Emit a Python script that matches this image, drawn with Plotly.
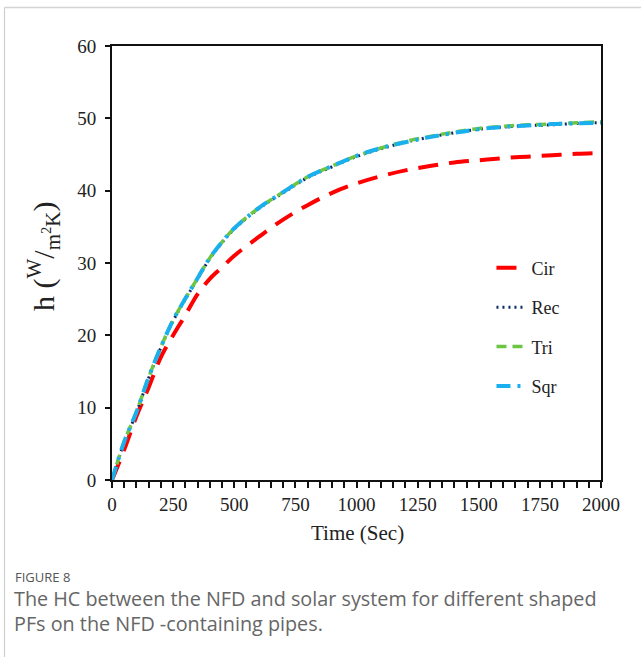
import plotly.graph_objects as go

time = [0, 50, 100, 150, 200, 250, 300, 350, 400, 450, 500, 600, 700, 800, 900,
        1000, 1100, 1200, 1300, 1400, 1500, 1600, 1700, 1800, 1900, 2000]
cir = [0, 4.2, 8.8, 12.8, 17.0, 20.0, 22.8, 25.7, 27.8, 29.4, 31.0, 33.6, 36.0, 38.0, 39.7,
       41.0, 42.0, 42.8, 43.4, 43.9, 44.2, 44.5, 44.7, 44.9, 45.1, 45.2]
rec = [0, 5.2, 9.3, 14.1, 18.3, 22.0, 25.0, 27.8, 30.6, 32.8, 34.7, 37.5, 39.7, 41.8, 43.3,
       44.7, 45.8, 46.7, 47.4, 48.0, 48.5, 48.8, 49.0, 49.1, 49.3, 49.4]
tri = [0, 5.3, 9.4, 14.2, 18.4, 22.1, 25.1, 27.9, 30.7, 32.9, 34.8, 37.6, 39.8, 41.9, 43.4,
       44.8, 45.9, 46.8, 47.5, 48.1, 48.6, 48.9, 49.1, 49.2, 49.4, 49.5]
sqr = [0, 5.3, 9.4, 14.2, 18.4, 22.1, 25.1, 27.9, 30.7, 32.9, 34.8, 37.6, 39.8, 41.9, 43.4,
       44.8, 45.9, 46.7, 47.4, 48.0, 48.5, 48.8, 49.0, 49.2, 49.3, 49.4]

series_names = ["Cir", "Rec", "Tri", "Sqr"]
series_vals = [cir, rec, tri, sqr]
styles = [
    dict(color="#ff0000", width=4, dash="20px,11px"),
    dict(color="#0a2a66", width=3, dash="2px,4px"),
    dict(color="#6cc644", width=3.5, dash="10px,6px"),
    dict(color="#1ab0ee", width=4, dash="14px,7px,3px,7px"),
]

fig = go.Figure()
for i, (n, v, s) in enumerate(zip(series_names, series_vals, styles)):
    fig.add_trace(go.Scatter(x=time, y=v, mode="lines", name=n, line=dict(shape="spline", **s),
                             legendgroup=n))

serif = "Liberation Serif"
fig.update_layout(
    width=641, height=657,
    margin=dict(l=112, r=40, t=46, b=177),
    paper_bgcolor="white", plot_bgcolor="white",
    font=dict(family=serif, size=19, color="#222"),
    showlegend=True,
    legend=dict(x=0.776, y=0.531, xanchor="left", yanchor="top", bgcolor="rgba(0,0,0,0)",
                font=dict(family=serif, size=18, color="#222"), tracegroupgap=13,
                itemwidth=30),
    xaxis=dict(range=[0, 2000], dtick=250, tick0=0, showgrid=False, zeroline=False,
               showline=True, linecolor="#111", linewidth=2, mirror=True,
               ticks="outside", ticklen=6, tickwidth=1.5, tickcolor="#111",
               minor=dict(dtick=50, ticks="outside", ticklen=6, tickwidth=1.5, tickcolor="#111"),
               tickfont=dict(family=serif, size=19, color="#222")),
    yaxis=dict(range=[0, 60], dtick=10, showgrid=False, zeroline=False,
               showline=True, linecolor="#111", linewidth=2, mirror=True,
               ticks="outside", ticklen=5, tickwidth=1.5, tickcolor="#111",
               ticklabelstandoff=5,
               tickfont=dict(family=serif, size=19, color="#222")),
)

W, H = 489.0, 434.0
def px(x): return (x - 112) / W
def py(y): return (480 - y) / H

fig.add_annotation(text="Time (Sec)", x=px(357), y=py(533), xref="paper", yref="paper",
                   showarrow=False, font=dict(family=serif, size=21, color="#222"),
                   xanchor="center", yanchor="middle")
fig.add_annotation(text="h (<sup>W</sup>/<sub>m<sup>2</sup>K</sub>)", x=px(43), y=py(256),
                   xref="paper", yref="paper", textangle=-90, showarrow=False,
                   font=dict(family=serif, size=30, color="#222"),
                   xanchor="center", yanchor="middle")

sans = "Open Sans"
fig.add_annotation(text="FIGURE 8", x=px(13), y=py(577), xref="paper", yref="paper",
                   showarrow=False, xanchor="left", yanchor="middle",
                   font=dict(family=sans, size=13, color="#555"))
fig.add_annotation(text="The HC between the NFD and solar system for different shaped",
                   x=px(12), y=py(598), xref="paper", yref="paper",
                   showarrow=False, xanchor="left", yanchor="middle",
                   font=dict(family=sans, size=19.8, color="#666"))
fig.add_annotation(text="PFs on the NFD -containing pipes.",
                   x=px(12), y=py(623), xref="paper", yref="paper",
                   showarrow=False, xanchor="left", yanchor="middle",
                   font=dict(family=sans, size=19.8, color="#666"))

# card border
fig.add_shape(type="line", xref="paper", yref="paper", x0=px(4.5), x1=px(641),
              y0=py(7.5), y1=py(7.5), line=dict(color="#d4d4d4", width=1.5))
fig.add_shape(type="line", xref="paper", yref="paper", x0=px(4.5), x1=px(4.5),
              y0=py(7.5), y1=py(657), line=dict(color="#cfcfcf", width=1.2))

fig.write_html("out.html")
